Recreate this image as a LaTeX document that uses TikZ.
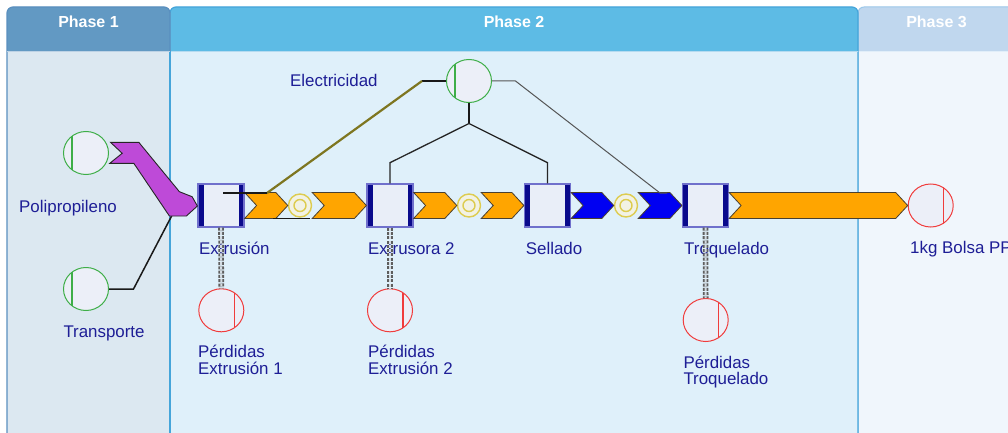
\documentclass[tikz,border=0pt]{standalone}
\usepackage{fontspec}
\setmainfont{Liberation Sans}
\usetikzlibrary{shapes.geometric,calc}
\definecolor{hOne}{HTML}{6299C3}
\definecolor{bOne}{HTML}{DCE8F1}
\definecolor{kOne}{HTML}{5A8FBF}
\definecolor{hTwo}{HTML}{5DBBE5}
\definecolor{bTwo}{HTML}{DFF0FA}
\definecolor{kTwo}{HTML}{45A5DA}
\definecolor{hThree}{HTML}{C0D7EE}
\definecolor{bThree}{HTML}{F0F6FC}
\definecolor{kThree}{HTML}{9CC8EA}
\definecolor{lblblue}{HTML}{1E1E96}
\definecolor{navybar}{HTML}{0A0A8C}
\definecolor{boxedge}{HTML}{7070CC}
\definecolor{boxfill}{HTML}{E9EEF8}
\definecolor{ingreen}{HTML}{3EAE48}
\definecolor{outred}{HTML}{F03C3C}
\definecolor{bubfill}{HTML}{ECEFF8}
\definecolor{ringyel}{HTML}{DDCC50}
\definecolor{ringfill}{HTML}{F2F2E4}
\definecolor{flowor}{HTML}{FFA500}
\definecolor{flowbl}{HTML}{0000F2}
\definecolor{flowpu}{HTML}{BE4AD8}
\definecolor{chevline}{HTML}{4A4030}
\definecolor{olivel}{HTML}{7E7620}
\definecolor{greyl}{HTML}{555555}
\definecolor{lossl}{HTML}{5E5E5E}
\definecolor{lossin}{HTML}{D4DCE2}
\tikzset{
  procbox/.style={rectangle, minimum width=46pt, minimum height=43pt, inner sep=0pt,
    draw=boxedge, line width=1.2pt, fill=boxfill,
    path picture={
      \fill[navybar] (path picture bounding box.north west) rectangle ([xshift=5.5pt]path picture bounding box.south west);
      \fill[navybar] ([xshift=-5.5pt]path picture bounding box.north east) rectangle (path picture bounding box.south east);}},
  inbub/.style={ellipse, minimum width=45pt, minimum height=43pt, inner sep=0pt,
    draw=ingreen, line width=1pt, fill=bubfill,
    path picture={\draw[ingreen, line width=1.3pt] ([xshift=-14pt]path picture bounding box.north) -- ([xshift=-14pt]path picture bounding box.south);}},
  outbub/.style={ellipse, minimum width=45pt, minimum height=43pt, inner sep=0pt,
    draw=outred, line width=1pt, fill=bubfill,
    path picture={\draw[outred, line width=1.3pt] ([xshift=13pt]path picture bounding box.north) -- ([xshift=13pt]path picture bounding box.south);}},
  ring/.style={circle, minimum size=23pt, inner sep=0pt, draw=ringyel, line width=1.4pt, fill=ringfill,
    path picture={\draw[ringyel, line width=1.4pt] (path picture bounding box.center) circle (6pt);}},
  lbl/.style={font=\fontsize{16.9pt}{18pt}\selectfont, text=lblblue, inner sep=0pt, anchor=base west},
  phasetxt/.style={font=\fontsize{16pt}{18pt}\selectfont\bfseries, text=white, inner sep=0pt, anchor=base},
  floworange/.style={fill=flowor, draw=chevline, line width=0.8pt, line join=miter},
  flowblue/.style={fill=flowbl, draw=chevline, line width=0.8pt, line join=miter},
  flowpurple/.style={fill=flowpu, draw=black!85, line width=0.9pt},
  blackline/.style={draw=black!90, line width=1.5pt},
  oliveline/.style={draw=olivel, line width=2.2pt},
  greyline/.style={draw=greyl, line width=1pt},
  lossline/.style={draw=lossl, line width=1.8pt, dash pattern=on 3pt off 1.3pt, double=lossin, double distance=2pt},
}
\newcommand\flowchev[3]{%
  \path[#1] let \p1=(#2), \p2=(#3) in
    (\x1,\y1+13pt) -- (\x2-12pt,\y1+13pt) -- (\x2,\y1) -- (\x2-12pt,\y1-13pt) -- (\x1,\y1-13pt) -- (\x1+12pt,\y1) -- cycle;}
\begin{document}
\begin{tikzpicture}[x=1pt,y=-1pt]
\useasboundingbox (0,0) rectangle (1008,433);
\clip (0,0) rectangle (1008,433);
\fill[white] (0,0) rectangle (1008,433);
% Phase 3 lane
\fill[bThree, rounded corners=6pt] (858,440) -- (858,7) -- (1015,7) -- (1015,440);
\fill[hThree, rounded corners=6pt] (858,51) -- (858,7) -- (1015,7) [sharp corners] -- (1015,51) -- cycle;
\draw[kThree, line width=1pt, rounded corners=6pt] (858,440) -- (858,7) -- (1015,7) -- (1015,440);
\draw[white!70!kThree, line width=0.8pt] (858,51) -- (1015,51);
% Phase 2 lane
\fill[bTwo, rounded corners=6pt] (170,440) -- (170,7) -- (858,7) -- (858,440);
\fill[hTwo, rounded corners=6pt] (170,51) -- (170,7) -- (858,7) [sharp corners] -- (858,51) -- cycle;
\draw[kTwo, line width=1.2pt, rounded corners=6pt] (170,440) -- (170,7) -- (858,7) -- (858,440);
\draw[white!60!kTwo, line width=0.8pt] (170,51) -- (858,51);
% Phase 1 lane
\fill[bOne, rounded corners=6pt] (7,440) -- (7,7) -- (170,7) -- (170,440);
\fill[hOne, rounded corners=6pt] (7,51) -- (7,7) -- (170,7) [sharp corners] -- (170,51) -- cycle;
\draw[kOne, line width=1.2pt, rounded corners=6pt] (7,440) -- (7,7) -- (170,7) -- (170,440);
\draw[kTwo, line width=1.2pt] (170,51) -- (170,440);
\draw[white!60!kOne, line width=0.8pt] (7,51) -- (170,51);
% headers
\node[phasetxt] (ph1) at (88.5,28) {Phase 1};
\node[phasetxt] (ph2) at (514,28) {Phase 2};
\node[phasetxt] (ph3) at (936.5,28) {Phase 3};
% nodes
\node[procbox] (ex) at (221,205.5) {};
\node[procbox] (e2) at (390,205.5) {};
\node[procbox] (se) at (547.5,205.5) {};
\node[procbox] (tq) at (705.5,205.5) {};
\node[inbub] (pp) at (86,153) {};
\node[inbub] (tr) at (86,289) {};
\node[inbub] (el) at (469,81) {};
\node[outbub] (out) at (930.7,205.5) {};
\node[outbub] (l1) at (221.3,310.3) {};
\node[outbub] (l2) at (390,310.3) {};
\node[outbub] (l3) at (705.7,320) {};
\node[ring] (r1) at (300,205.5) {};
\node[ring] (r2) at (469,205.5) {};
\node[ring] (r3) at (626,205.5) {};
% labels
\node[lbl] (lex) at (199,254) {Extrusión};
\node[lbl] (le2) at (368,254) {Extrusora 2};
\node[lbl] (lse) at (525.7,254) {Sellado};
\node[lbl] (ltq) at (684,254) {Troquelado};
\node[lbl] (lout) at (910,253) {1kg Bolsa PP};
\node[lbl] (lel) at (290,87) {Electricidad};
\node[lbl] (lpp) at (19,212.3) {Polipropileno};
\node[lbl] (ltr) at (63.3,337.3) {Transporte};
\node[lbl] (ll1) at (198,357.7) {\vtop{\baselineskip=16.6pt\hbox{Pérdidas}\hbox{Extrusión 1}}};
\node[lbl] (ll2) at (368,357.7) {\vtop{\baselineskip=16.6pt\hbox{Pérdidas}\hbox{Extrusión 2}}};
\node[lbl] (ll3) at (683.3,368.3) {\vtop{\baselineskip=16.6pt\hbox{Pérdidas}\hbox{Troquelado}}};
% loss connectors
\draw[lossline] (ex.south) -- (l1.north);
\draw[lossline] (e2.south) -- (l2.north);
\draw[lossline] (tq.south) -- (l3.north);
% transport connector
\coordinate (trk) at ($(tr.east)+(24.5,0)$);
\coordinate (tre) at ($(ex.west)+(-25,9)$);
\draw[blackline] (tr.east) -- (trk) -- (tre);
% purple flow
\path[flowpurple] ($(pp.east)+(1.5,-10.7)$) -- ($(pp.east)+(29.8,-10.7)$) -- ($(ex.west)+(-18,-13.8)$) -- ($(ex.west)+(-5.3,-8.8)$) -- ($(ex.west)+(0,0.5)$) -- ($(ex.west)+(-11,10.5)$) -- ($(ex.west)+(-28,10.5)$) -- ($(pp.east)+(24.8,10.3)$) -- ($(pp.east)+(0.8,10.3)$) -- ($(pp.east)+(13.2,0.3)$) -- cycle;
% chevron flows
\flowchev{floworange}{ex.east}{r1.west}
\flowchev{floworange}{r1.east}{e2.west}
\flowchev{floworange}{e2.east}{r2.west}
\flowchev{floworange}{r2.east}{se.west}
\flowchev{flowblue}{se.east}{r3.west}
\flowchev{flowblue}{r3.east}{tq.west}
\flowchev{floworange}{tq.east}{out.west}
% electricity connectors
\coordinate (elL) at ($(el.west)+(-24,0)$);
\coordinate (elE) at ($(ex.center)+(46,-12.5)$);
\coordinate (elX) at ($(ex.center)+(2,-12.5)$);
\draw[blackline] (el.west) -- (elL);
\draw[oliveline] (elL) -- (elE);
\draw[blackline] (elE) -- (elX);
\coordinate (exU1) at ($(ex.center)+(52,13)$);
\coordinate (exU2) at ($(ex.center)+(89,13)$);
\draw[draw=black!90, line width=1.2pt] (exU1) -- (exU2);
\coordinate (elB) at ($(el.south)+(0,20.5)$);
\draw[blackline] (el.south) -- (elB);
\draw[draw=black!85, line width=1.3pt] (elB) -- ($(e2.north)+(0,-20.7)$) -- (e2.north);
\draw[draw=black!85, line width=1.3pt] (elB) -- ($(se.north)+(0,-20.7)$) -- (se.north);
\coordinate (elR) at ($(el.east)+(23.5,0)$);
\coordinate (elT) at ($(tq.center)+(-45.5,-12.5)$);
\coordinate (elT2) at ($(tq.center)+(-38.5,-12.5)$);
\draw[greyline] (el.east) -- (elR) -- (elT) -- (elT2);
\end{tikzpicture}
\end{document}
